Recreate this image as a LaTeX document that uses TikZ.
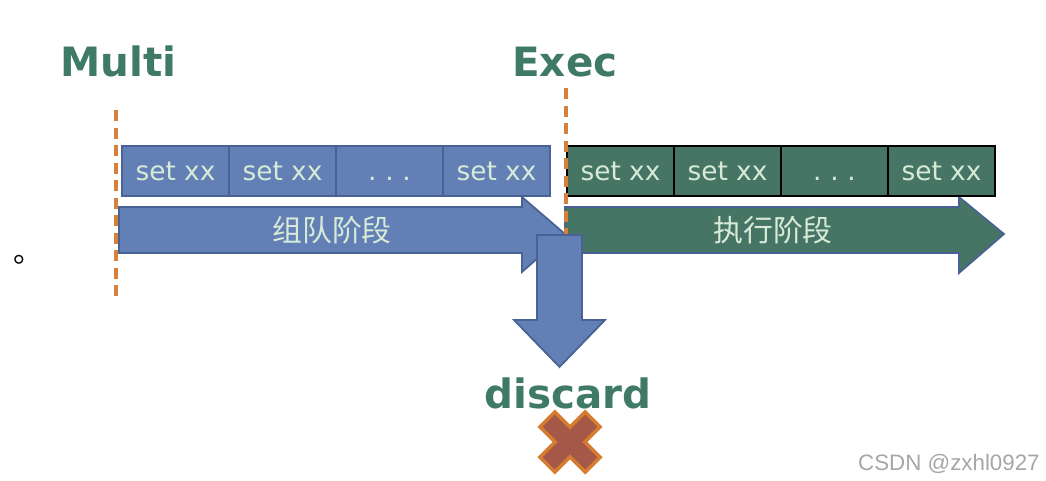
\documentclass[tikz,border=0pt]{standalone}
\usepackage{fontspec}
\setmainfont{DejaVu Sans}
\newfontfamily\cjk{Noto Sans CJK SC}
\newfontfamily\wmfont{Liberation Sans}
\usetikzlibrary{positioning}
\definecolor{qblue}{RGB}{98,127,182}
\definecolor{qblueedge}{RGB}{72,98,148}
\definecolor{qgreen}{RGB}{70,117,102}
\definecolor{qpale}{RGB}{214,234,214}
\definecolor{qlabel}{RGB}{62,122,102}
\definecolor{qorange}{RGB}{214,128,60}
\definecolor{qcross}{RGB}{166,88,72}
\definecolor{qcrossedge}{RGB}{214,124,48}
\newcommand{\qdots}{\vphantom{set xx}.\kern5pt.\kern5pt.}
\tikzset{
  cmdbox/.style={minimum height=10mm,minimum width=21.4mm,inner sep=0pt,outer sep=0pt,
                 line width=1.1pt,text=qpale,font=\fontsize{15}{18}\selectfont},
  bluebox/.style={cmdbox,draw=qblueedge,fill=qblue},
  greenbox/.style={cmdbox,draw=black,fill=qgreen},
  stage/.style={text=qpale,font=\cjk\fontsize{17}{20}\selectfont,inner sep=0pt},
  tag/.style={text=qlabel,font=\bfseries\fontsize{23}{26}\selectfont,inner sep=0pt},
  cut/.style={draw=qorange,line width=2.4pt,dash pattern=on 2.2mm off 1.3mm},
}
\begin{document}
\begin{tikzpicture}[
  bigarrow/.style={draw=qblueedge,line width=1pt,line join=miter}]

\useasboundingbox (0,0) rectangle (20.92,9.6);

% stage arrows
\draw[bigarrow,fill=qblue] (2.38,5.46) -- (10.44,5.46) -- (10.44,5.66) -- (11.3,4.92)
  -- (10.44,4.16) -- (10.44,4.54) -- (2.38,4.54) -- cycle;
\draw[bigarrow,fill=qgreen] (11.3,5.46) -- (19.18,5.46) -- (19.18,5.66) -- (20.08,4.92)
  -- (19.18,4.14) -- (19.18,4.54) -- (11.3,4.54) -- cycle;
\node[stage] (queue) at (6.64,5.0) {组队阶段};
\node[stage] (exec) at (15.46,5.0) {执行阶段};

% queued commands
\node[bluebox,anchor=west] (b1) at (2.44,6.18) {set xx};
\node[bluebox,right=0pt of b1] (b2) {set xx};
\node[bluebox,right=0pt of b2] (b3) {\qdots};
\node[bluebox,right=0pt of b3] (b4) {set xx};

% executed commands
\node[greenbox,anchor=west] (g1) at (11.34,6.18) {set xx};
\node[greenbox,right=0pt of g1] (g2) {set xx};
\node[greenbox,right=0pt of g2] (g3) {\qdots};
\node[greenbox,right=0pt of g3] (g4) {set xx};

% markers
\node[tag,anchor=base west] (multi) at (1.2,8.08) {Multi};
\node[tag,anchor=base west] (execlbl) at (10.24,8.08) {Exec};
\coordinate (mtop) at (2.32,7.4);
\coordinate (mbot) at (2.32,3.6);
\coordinate (etop) at (11.32,7.84);
\coordinate (ebot) at (11.32,4.9);
\draw[cut] (mtop) -- (mbot);
\draw[cut] (etop) -- (ebot);

% discard arrow
\draw[bigarrow,fill=qblue] (10.74,4.9) -- (11.64,4.9) -- (11.64,3.2) -- (12.1,3.2)
  -- (11.19,2.26) -- (10.28,3.2) -- (10.74,3.2) -- cycle;
\node[tag,anchor=base] (discard) at (11.36,1.44) {discard};

% cross
\begin{scope}[shift={(11.4,0.76)},rotate=45]
  \draw[fill=qcross,draw=qcrossedge,line width=2pt,line join=miter]
    (-0.21,0.64) -- (0.21,0.64) -- (0.21,0.21) -- (0.64,0.21) -- (0.64,-0.21) -- (0.21,-0.21)
    -- (0.21,-0.64) -- (-0.21,-0.64) -- (-0.21,-0.21) -- (-0.64,-0.21) -- (-0.64,0.21)
    -- (-0.21,0.21) -- cycle;
\end{scope}

\node[font=\cjk\fontsize{17}{20}\selectfont,anchor=base west,inner sep=0pt] (dot) at (0.26,4.36) {。};
\node[font=\wmfont\fontsize{12.7}{15}\selectfont,text=black!35,anchor=base east,inner sep=0pt]
  (mark) at (20.8,0.2) {CSDN @zxhl0927};

\end{tikzpicture}
\end{document}
